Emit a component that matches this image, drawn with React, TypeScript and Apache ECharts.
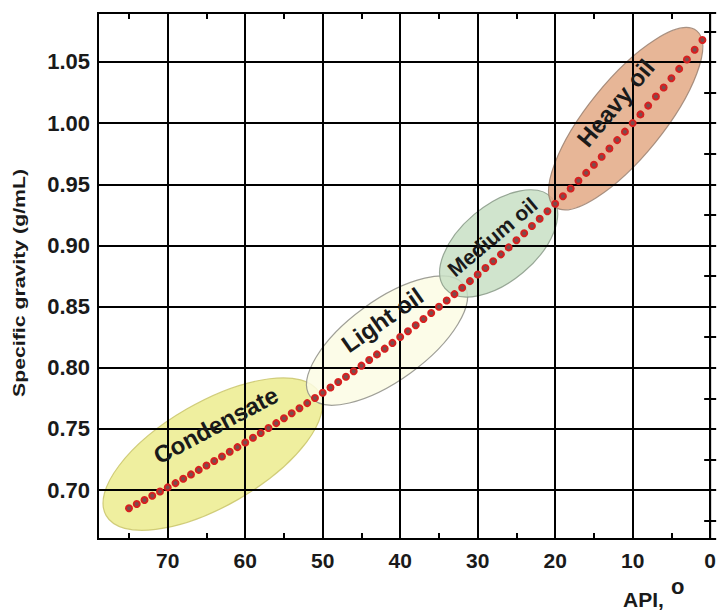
import React, { useEffect, useRef } from 'react';
import * as echarts from 'echarts';

// API gravity of each plotted point (degrees)
const apiValues = [
  75, 74, 73, 72, 71, 70, 69, 68, 67, 66, 65, 64, 63, 62, 61, 60, 59, 58, 57, 56,
  55, 54, 53, 52, 51, 50, 49, 48, 47, 46, 45, 44, 43, 42, 41, 40, 39, 38, 37, 36,
  35, 34, 33, 32, 31, 30, 29, 28, 27, 26, 25, 24, 23, 22, 21, 20, 19, 18, 17, 16,
  15, 14, 13, 12, 11, 10, 9, 8, 7, 6, 5, 4, 3, 2, 1,
];
// specific gravity read for each point (g/mL)
const sgValues = [
  0.6852, 0.6886, 0.6919, 0.6953, 0.6988, 0.7022, 0.7057, 0.7093, 0.7128, 0.7165,
  0.7201, 0.7238, 0.7275, 0.7313, 0.7351, 0.7389, 0.7428, 0.7467, 0.7507, 0.7547,
  0.7587, 0.7628, 0.7669, 0.7711, 0.7753, 0.7796, 0.7839, 0.7883, 0.7927, 0.7972,
  0.8017, 0.8063, 0.8109, 0.8156, 0.8203, 0.8251, 0.8299, 0.8348, 0.8398, 0.8448,
  0.8498, 0.855, 0.8602, 0.8654, 0.8708, 0.8762, 0.8816, 0.8871, 0.8927, 0.8984,
  0.9042, 0.91, 0.9159, 0.9218, 0.9279, 0.934, 0.9402, 0.9465, 0.9529, 0.9593,
  0.9659, 0.9725, 0.9792, 0.9861, 0.993, 1.0, 1.0071, 1.0143, 1.0217, 1.0291,
  1.0366, 1.0443, 1.052, 1.0599, 1.0679,
];

const xMin = 0;
const xMax = 79;
const yMin = 0.66;
const yMax = 1.09;

// oil classes
const regionNames = ['Condensate', 'Light oil', 'Medium oil', 'Heavy oil'];
const regionCenterApi = [64.2, 41.7, 27.3, 10.9];
const regionCenterSg = [0.7294, 0.8222, 0.9016, 1.0036];
const labelApi = [63.8, 42.3, 28.1, 12.2];
const labelSg = [0.7531, 0.839, 0.9069, 1.0164];

// styling (pixels / degrees / colours)
const regionRx = [123, 95, 70, 113];
const regionRy = [52, 40, 38, 38];
const regionAngle = [30, 36, 40, 51];
const labelAngle = [28, 35, 40, 50];
const labelFontSize = [24, 24, 21, 24];
const regionFill = ['#ecec8e', '#fbfbe4', '#c8dfc4', '#e3a985'];
const regionStroke = ['#c9c46a', '#8e8e86', '#8a9a88', '#9a8070'];

const FONT = '"Liberation Sans", Arial, Helvetica, sans-serif';

const isMultiple = (v: number, step: number) =>
  Math.abs(v / step - Math.round(v / step)) < 1e-6;

export default function App() {
  const ref = useRef<HTMLDivElement>(null);

  useEffect(() => {
    if (!ref.current) return;
    const chart = echarts.init(ref.current, undefined, { renderer: 'svg' });

    const tickCommon = {
      axisTick: { show: true, inside: true, length: 6, lineStyle: { color: '#000', width: 2 } },
      minorTick: { show: true, splitNumber: 2, length: 6, lineStyle: { color: '#000', width: 2 } },
    };

    const option: any = {
      animation: false,
      backgroundColor: '#fff',
      grid: {
        left: 98,
        right: 4,
        top: 13,
        bottom: 72,
        show: true,
        z: 3,
        borderColor: '#000',
        borderWidth: 2,
        backgroundColor: 'transparent',
      },
      xAxis: [
        {
          type: 'value',
          position: 'bottom',
          z: 3,
          min: xMin,
          max: xMax,
          interval: 10,
          inverse: true,
          axisLine: { show: false },
          ...tickCommon,
          splitLine: { show: true, lineStyle: { color: '#000', width: 2 } },
          axisLabel: {
            fontFamily: FONT,
            fontWeight: 'bold',
            fontSize: 21,
            color: '#1a1a1a',
            margin: 11,
            formatter: (v: number) => (isMultiple(v, 10) ? String(v) : ''),
          },
        },
        {
          type: 'value',
          position: 'top',
          z: 3,
          min: xMin,
          max: xMax,
          interval: 10,
          inverse: true,
          axisLine: { show: false },
          ...tickCommon,
          splitLine: { show: false },
          axisLabel: { show: false },
        },
      ],
      yAxis: [
        {
          type: 'value',
          position: 'left',
          z: 3,
          min: yMin,
          max: yMax,
          splitNumber: 8,
          axisLine: { show: false },
          ...tickCommon,
          splitLine: { show: true, lineStyle: { color: '#000', width: 2 } },
          axisLabel: {
            fontFamily: FONT,
            fontWeight: 'bold',
            fontSize: 22,
            color: '#1a1a1a',
            margin: 8,
            formatter: (v: number) => (isMultiple(v, 0.05) ? v.toFixed(2) : ''),
          },
        },
        {
          type: 'value',
          position: 'right',
          z: 3,
          min: yMin,
          max: yMax,
          splitNumber: 8,
          axisLine: { show: false },
          ...tickCommon,
          splitLine: { show: false },
          axisLabel: { show: false },
        },
      ],
      series: [
        {
          type: 'scatter',
          xAxisIndex: 0,
          yAxisIndex: 0,
          z: 5,
          symbol: 'circle',
          symbolSize: 6,
          itemStyle: { color: '#7a4e4e', borderColor: '#d62020', borderWidth: 2, opacity: 1 },
          data: apiValues.map((a, i) => [a, sgValues[i]]),
        },
      ],
    };

    chart.setOption(option);

    const graphics: any[] = [];
    regionNames.forEach((name, i) => {
      const c = chart.convertToPixel({ xAxisIndex: 0, yAxisIndex: 0 }, [
        regionCenterApi[i],
        regionCenterSg[i],
      ]) as number[];
      graphics.push({
        type: 'ellipse',
        x: c[0],
        y: c[1],
        rotation: (regionAngle[i] * Math.PI) / 180,
        z: 1,
        shape: { cx: 0, cy: 0, rx: regionRx[i], ry: regionRy[i] },
        style: { fill: regionFill[i], stroke: regionStroke[i], lineWidth: 1.2, opacity: 0.85 },
        silent: true,
      });
    });
    regionNames.forEach((name, i) => {
      const p = chart.convertToPixel({ xAxisIndex: 0, yAxisIndex: 0 }, [
        labelApi[i],
        labelSg[i],
      ]) as number[];
      graphics.push({
        type: 'text',
        x: p[0],
        y: p[1],
        rotation: (labelAngle[i] * Math.PI) / 180,
        z: 10,
        style: {
          text: name,
          font: `bold ${labelFontSize[i]}px ${FONT}`,
          fill: '#1a1a1a',
          align: 'center',
          verticalAlign: 'middle',
        },
        silent: true,
      });
    });
    // axis titles
    graphics.push({
      type: 'text',
      x: 19,
      y: 283,
      rotation: Math.PI / 2,
      scaleX: 1.33,
      z: 10,
      style: {
        text: 'Specific gravity (g/mL)',
        font: `bold 16px ${FONT}`,
        fill: '#1a1a1a',
        align: 'center',
        verticalAlign: 'middle',
      },
    });
    graphics.push({
      type: 'text',
      x: 623,
      y: 599,
      z: 10,
      style: {
        text: 'API,',
        font: `bold 21px ${FONT}`,
        fill: '#1a1a1a',
        align: 'left',
        verticalAlign: 'middle',
      },
    });
    graphics.push({
      type: 'text',
      x: 671,
      y: 586,
      z: 10,
      style: {
        text: 'o',
        font: `bold 22px ${FONT}`,
        fill: '#1a1a1a',
        align: 'left',
        verticalAlign: 'middle',
      },
    });

    chart.setOption({ graphic: { elements: graphics } });

    return () => {
      chart.dispose();
    };
  }, []);

  return (
    <div
      ref={ref}
      style={{ position: 'fixed', left: 0, top: 0, width: 719, height: 611, background: '#fff' }}
    />
  );
}
